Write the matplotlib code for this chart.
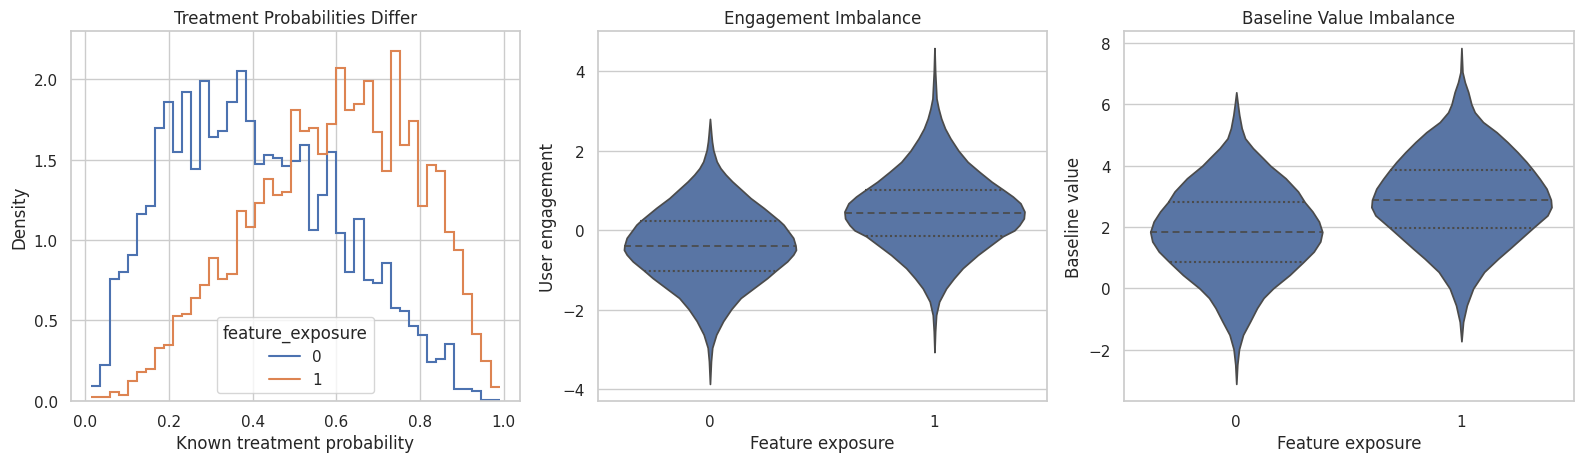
import numpy as np
import matplotlib
matplotlib.use("Agg")
import matplotlib.pyplot as plt
from matplotlib.lines import Line2D
import seaborn as sns

# ---------------- data ----------------
bin_lo, bin_hi, n_bins = 0.015, 0.99, 45
hist0 = [0.093, 0.22, 0.76, 0.80, 0.91, 1.16, 1.21, 1.70, 1.86, 1.55,
         1.92, 1.44, 1.99, 1.64, 1.68, 1.86, 2.05, 1.74, 1.475, 1.53,
         1.51, 1.46, 1.49, 1.59, 1.06, 1.28, 1.55, 1.045, 0.80, 1.13,
         0.75, 0.73, 0.86, 0.58, 0.56, 0.465, 0.41, 0.24, 0.26, 0.35,
         0.074, 0.074, 0.058, 0.006, 0.006]
hist1 = [0.02, 0.02, 0.055, 0.035, 0.12, 0.18, 0.20, 0.33, 0.345, 0.53,
         0.54, 0.64, 0.72, 0.89, 0.76, 0.79, 1.18, 1.08, 1.23, 1.38,
         1.28, 1.30, 1.81, 1.68, 1.70, 1.535, 1.72, 2.07, 1.81, 1.85,
         1.99, 1.67, 1.43, 2.18, 1.59, 1.74, 1.21, 1.47, 1.43, 1.05,
         0.94, 0.665, 0.415, 0.25, 0.086]
groups = ["0", "1"]

# violin outlines: y values and half widths (category units)
eng0_y = [-3.86, -3.29, -2.95, -2.62, -2.28, -1.98, -1.70, -1.45, -1.20, -1.01,
          -0.78, -0.61, -0.49, -0.38, -0.19, 0.0, 0.14, 0.24, 0.56, 0.81,
          0.98, 1.23, 1.40, 1.56, 1.73, 2.01, 2.23, 2.40, 2.80]
eng0_w = [0.0, 0.0045, 0.010, 0.028, 0.059, 0.095, 0.137, 0.196, 0.255, 0.294,
          0.344, 0.371, 0.383, 0.381, 0.371, 0.346, 0.328, 0.309, 0.240, 0.181,
          0.148, 0.099, 0.070, 0.047, 0.030, 0.015, 0.009, 0.006, 0.0]
eng1_y = [-3.06, -2.54, -2.13, -1.79, -1.46, -1.21, -0.95, -0.62, -0.37, -0.15,
          0.0, 0.13, 0.30, 0.47, 0.68, 0.85, 1.01, 1.22, 1.47, 1.72,
          2.0, 2.31, 2.56, 2.81, 3.06, 3.31, 3.98, 4.58]
eng1_w = [0.0, 0.003, 0.0074, 0.021, 0.052, 0.086, 0.126, 0.193, 0.252, 0.304,
          0.356, 0.378, 0.398, 0.401, 0.383, 0.349, 0.309, 0.255, 0.200, 0.148,
          0.107, 0.071, 0.047, 0.030, 0.018, 0.009, 0.003, 0.0]
eng_q = [[-1.02, -0.39, 0.235], [-0.15, 0.44, 1.01]]

base0_y = [-3.11, -2.48, -1.98, -1.51, -1.07, -0.64, -0.31, 0.0, 0.44, 0.85,
           1.20, 1.53, 1.84, 2.18, 2.51, 2.81, 3.16, 3.59, 4.0, 4.24,
           4.57, 4.89, 5.22, 5.65, 6.03, 6.39]
base0_w = [0.0, 0.0044, 0.012, 0.030, 0.062, 0.092, 0.121, 0.163, 0.237, 0.296,
           0.344, 0.373, 0.382, 0.367, 0.338, 0.304, 0.274, 0.219, 0.151, 0.119,
           0.074, 0.039, 0.024, 0.013, 0.006, 0.0]
base1_y = [-1.72, -1.09, -0.55, 0.0, 0.54, 0.97, 1.30, 1.62, 1.98, 2.38,
           2.65, 2.89, 3.25, 3.57, 3.85, 4.12, 4.44, 4.77, 5.09, 5.42,
           5.74, 6.0, 6.40, 6.72, 7.05, 7.83]
base1_w = [0.0, 0.0074, 0.024, 0.052, 0.101, 0.163, 0.215, 0.264, 0.319, 0.382,
           0.400, 0.397, 0.378, 0.348, 0.319, 0.289, 0.249, 0.204, 0.156, 0.096,
           0.059, 0.044, 0.030, 0.015, 0.0044, 0.0]
base_q = [[0.85, 1.84, 2.81], [1.98, 2.89, 3.85]]

# ---------------- style ----------------
sns.set_theme(style="whitegrid")
blue, orange = sns.color_palette("deep")[:2]
fill_col = sns.desaturate(blue, 0.75)
edge_col = (0.296, 0.296, 0.296)

fig = plt.figure(figsize=(15.83, 4.64), dpi=100)
W, H = 1583, 464
def rect(l, r, t, b):
    return [l / W, (H - b) / H, (r - l) / W, (b - t) / H]
ax1 = fig.add_axes(rect(71, 520, 32.3, 401.7))
ax2 = fig.add_axes(rect(597.7, 1046.7, 32.3, 401.7))
ax3 = fig.add_axes(rect(1123.7, 1574, 32.3, 401.7))

# ---- histogram panel ----
edges = np.linspace(bin_lo, bin_hi, n_bins + 1)
ax1.stairs(hist0, edges, baseline=None, color=blue, linewidth=1.5)
ax1.stairs(hist1, edges, baseline=None, color=orange, linewidth=1.5)
ax1.margins(x=0.05, y=0.05)
ax1.set_yticks([0, 0.5, 1.0, 1.5, 2.0])
ax1.set_xticks([0, 0.2, 0.4, 0.6, 0.8, 1.0])
ax1.set_title("Treatment Probabilities Differ")
ax1.set_xlabel("Known treatment probability")
ax1.set_ylabel("Density")
handles = [Line2D([], [], color=blue, linewidth=1.5),
           Line2D([], [], color=orange, linewidth=1.5)]
ax1.legend(handles, groups, title="feature_exposure", loc="lower center")
ax1.set_ylim(0, max(max(hist0), max(hist1)) * 1.055)

# ---- violin panels ----
def draw_violins(ax, ys, ws, quarts):
    stats = []
    for y, w, q in zip(ys, ws, quarts):
        stats.append(dict(coords=np.array(y), vals=np.array(w), mean=q[1],
                          median=q[1], min=y[0], max=y[-1]))
    widths = [2 * max(w) for w in ws]
    parts = ax.violin(stats, positions=[0, 1], widths=widths,
                      showmeans=False, showextrema=False, showmedians=False)
    for body in parts["bodies"]:
        body.set_facecolor(fill_col)
        body.set_edgecolor(edge_col)
        body.set_linewidth(1.25)
        body.set_alpha(1)
        body.set_zorder(2)
    for pos, y, w, q in zip([0, 1], ys, ws, quarts):
        for k, val in enumerate(q):
            hw = np.interp(val, y, w)
            ax.plot([pos - hw, pos + hw], [val, val], color=edge_col,
                    linewidth=1.25 if k == 1 else 1.5,
                    linestyle=(0, (4, 2.5)) if k == 1 else (0, (1, 1.3)),
                    zorder=3)
    ax.set_xlim(-0.5, 1.5)
    ax.set_xticks([0, 1])
    ax.set_xticklabels(groups)
    ax.grid(axis="x", visible=False)
    ax.set_xlabel("Feature exposure")

draw_violins(ax2, [eng0_y, eng1_y], [eng0_w, eng1_w], eng_q)
ax2.set_title("Engagement Imbalance")
ax2.set_ylabel("User engagement")
ax2.set_yticks([-4, -2, 0, 2, 4])

draw_violins(ax3, [base0_y, base1_y], [base0_w, base1_w], base_q)
ax3.set_title("Baseline Value Imbalance")
ax3.set_ylabel("Baseline value")
ax3.set_yticks([-2, 0, 2, 4, 6, 8])

fig.savefig("out.png", dpi=100)
